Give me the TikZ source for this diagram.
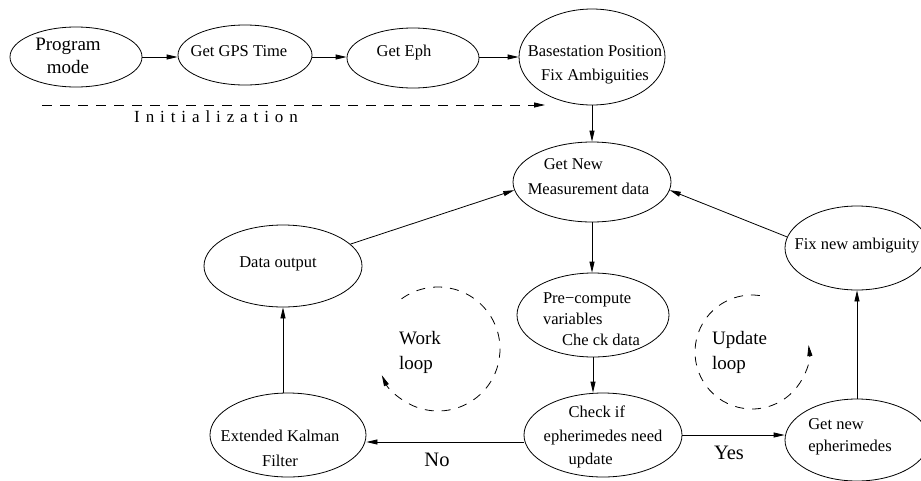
\documentclass[tikz,border=0pt]{standalone}
\usepackage{fontspec}
\setmainfont{Liberation Serif}
\usetikzlibrary{shapes.geometric,arrows.meta}
% #1 doubled horizontal shift, #2 raise, #3 column spec, #4 lines
\newcommand\intext[4]{\makebox[0pt]{\hspace*{#1}\raisebox{#2}[0pt][0pt]{\begin{tabular}{@{}#3@{}}#4\end{tabular}}}}
\newcommand\lsp{\hspace{5.9pt}}
\tikzset{
  ell/.style={draw, ellipse, inner sep=0pt, line width=0.8pt, font=\fontsize{16.5}{23}\selectfont},
  arr/.style={-{Triangle[length=11pt,width=5pt]}, line width=0.8pt},
  loopline/.style={line width=0.8pt, dash pattern=on 9pt off 8pt, -{Triangle[length=11pt,width=5pt]}},
  bigtext/.style={font=\fontsize{19}{25}\selectfont, align=left, inner sep=0pt},
  yesno/.style={font=\fontsize{20.5}{24}\selectfont, inner sep=0pt}
}
\begin{document}
\begin{tikzpicture}[x=1pt,y=-1pt]
\path[use as bounding box, fill=white] (0,0) rectangle (921,480);

% top row
\node[ell, minimum width=132pt, minimum height=60pt, font=\fontsize{19}{23}\selectfont] (prog) at (76,57) {\intext{-16pt}{-5pt}{c}{Program\\mode}};
\node[ell, minimum width=134pt, minimum height=60pt] (gps) at (245,55) {\intext{-12pt}{-1pt}{c}{Get GPS Time}};
\node[ell, minimum width=132pt, minimum height=60pt] (eph) at (413,58) {\intext{-18pt}{2pt}{c}{Get Eph}};
\node[ell, minimum width=146pt, minimum height=96pt, font=\fontsize{16.5}{24}\selectfont] (base) at (592,57) {\intext{6pt}{-11pt}{c}{Basestation Position\\Fix Ambiguities}};

% main loop
\node[ell, minimum width=158pt, minimum height=80pt, font=\fontsize{16.5}{25}\selectfont] (getnew) at (592,182) {\intext{-7pt}{0.5pt}{l}{\hspace*{16pt}Get New\\Measurement data}};
\node[ell, minimum width=158pt, minimum height=82pt] (dataout) at (283,266) {\intext{-10pt}{-1pt}{c}{Data output}};
\node[ell, minimum width=144pt, minimum height=84pt] (fixnew) at (857,248) {\intext{0pt}{-1pt}{c}{Fix new ambiguity}};
\node[ell, minimum width=152pt, minimum height=84pt, font=\fontsize{16.5}{21}\selectfont] (precomp) at (593,315) {\intext{-3pt}{-10pt}{l}{Pre−compute\\variables\\\hspace*{19pt}Che ck data}};
\node[ell, minimum width=158pt, minimum height=84pt, font=\fontsize{16.5}{23.5}\selectfont] (check) at (603,435) {\intext{0pt}{-6pt}{l}{\hspace*{25pt}Check if\\epherimedes need\\\hspace*{25pt}update}};
\node[ell, minimum width=156pt, minimum height=84pt, font=\fontsize{16.5}{25}\selectfont] (kalman) at (288,435) {\intext{-16pt}{-18.5pt}{c}{Extended Kalman\\Filter}};
\node[ell, minimum width=144pt, minimum height=82pt, font=\fontsize{16.5}{22}\selectfont] (geteph) at (857,440) {\intext{-14pt}{0pt}{l}{Get new\\epherimedes}};

% connectors, top row
\draw[arr] (prog.east) -- (gps.west |- prog.east);
\draw[arr] (gps.east |- prog.east) -- (eph.west |- prog.east);
\draw[arr] (eph.east |- prog.east) -- (base.west |- prog.east);
\draw[arr] (base) -- (getnew);

% initialization
\coordinate (initS) at (42,105);
\coordinate (initE) at (545,105);
\draw[line width=0.8pt, dash pattern=on 10pt off 8pt, -{Triangle[length=11pt,width=5pt]}] (initS) -- (initE);
\node[font=\fontsize{17}{20}\selectfont, inner sep=0pt] (initlbl) at (216,117) {I\lsp n\lsp i\lsp t\lsp i\lsp a\lsp l\lsp i\lsp z\lsp a\lsp t\lsp i\lsp o\lsp n};

% main connectors
\draw[arr] (dataout.18) -- (getnew.186);
\draw[arr] (fixnew.171) -- (getnew.354);
\draw[arr] (getnew.south) -- (getnew.south |- precomp.north);
\draw[arr] (precomp.south) -- (precomp.south |- check.north);
\draw[arr] ([yshift=-7pt]check.west) -- ([yshift=-7pt]kalman.east);
\draw[arr] (check.east) -- (geteph.west |- check.east);
\draw[arr] (kalman.north -| dataout.south) -- (dataout.south);
\draw[arr] (geteph.north -| fixnew.south) -- (fixnew.south);

\node[yesno] (no) at (437,460) {No};
\node[yesno] (yes) at (729,453) {Yes};

% loops
\coordinate (wl) at (438,349);
\coordinate (ul) at (752,352);
\draw[loopline] (wl) ++(-126:62) arc[start angle=-126, end angle=155, radius=62];
\draw[loopline] (ul) ++(-82:57) arc[start angle=-82, end angle=-367, radius=57];
\node[bigtext, anchor=west] (worklbl) at (399,352) {Work\\loop};
\node[bigtext, anchor=west] (updlbl) at (712,352) {Update\\loop};
\end{tikzpicture}
\end{document}
